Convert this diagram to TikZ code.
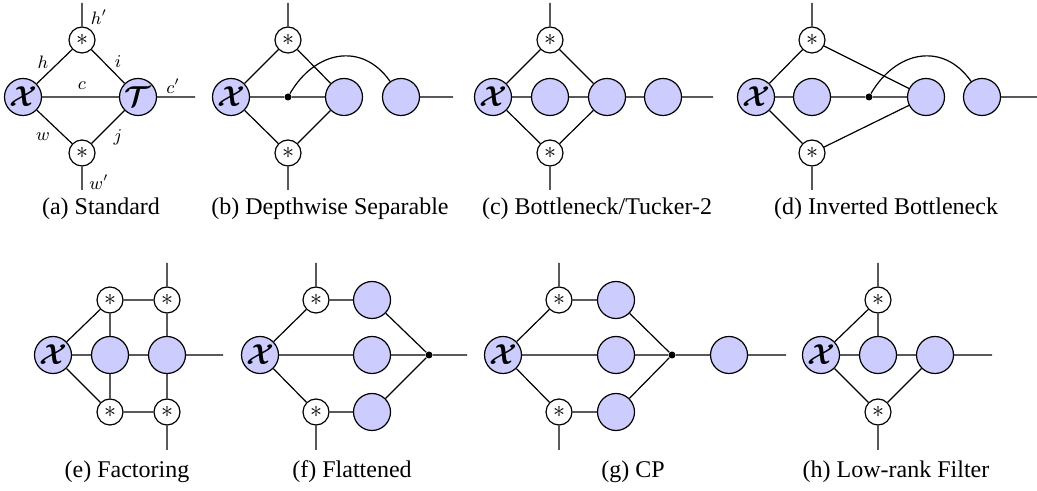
\documentclass[tikz,border=0pt]{standalone}
\usepackage{amsmath}
\usepackage{bm}
\usepackage{fontspec}
\setmainfont{Liberation Serif}
\definecolor{tfill}{RGB}{204,204,255}
\tikzset{
  tn/.style={circle,draw,fill=tfill,minimum size=18.5pt,inner sep=0pt,line width=0.6pt},
  cv/.style={circle,draw,fill=white,minimum size=13pt,inner sep=0pt,line width=0.6pt,font=\fontsize{11.5}{11.5}\selectfont},
  dotn/.style={circle,fill=black,minimum size=3.5pt,inner sep=0pt},
  lbl/.style={font=\fontsize{9}{9}\selectfont,inner sep=0pt},
  captxt/.style={font=\fontsize{12}{14}\selectfont,inner sep=0pt,anchor=base},
  wire/.style={line width=0.6pt}
}
\newcommand{\tX}{\fontsize{14}{14}\selectfont$\bm{\mathcal{X}}$}
\newcommand{\tT}{\fontsize{14}{14}\selectfont$\bm{\mathcal{T}}$}
\begin{document}
\begin{tikzpicture}[x=0.5pt,y=0.5pt]
\useasboundingbox (0,0) rectangle (1037,491);
% ---------- (a)
\node[tn] (aX) at (23,394) {\tX};
\node[tn] (aT) at (138,394) {\tT};
\node[cv] (as1) at (82,451) {$\ast$};
\node[cv] (as2) at (82,338) {$\ast$};
\coordinate (atop) at (82,488);
\coordinate (abot) at (82,301);
\coordinate (ar) at (195,394);
\draw[wire] (aX) -- (as1) (as1) -- (aT) (aX) -- (aT) (aX) -- (as2) (as2) -- (aT)
  (as1) -- (atop) (as2) -- (abot) (aT) -- (ar);
\node[lbl] (lhp) at (99,474) {$h'$};
\node[lbl] (lh) at (43,429) {$h$};
\node[lbl] (li) at (118,429) {$i$};
\node[lbl] (lc) at (82,405) {$c$};
\node[lbl] (lcp) at (173,405) {$c'$};
\node[lbl] (lw) at (43,354) {$w$};
\node[lbl] (lj) at (118,354) {$j$};
\node[lbl] (lwp) at (99,309) {$w'$};
\node[captxt] (capa) at (101,276) {(a) Standard};
% ---------- (b)
\node[tn] (bX) at (231,394) {\tX};
\node[cv] (bs1) at (288,451) {$\ast$};
\node[cv] (bs2) at (288,338) {$\ast$};
\node[dotn] (bd) at (288,394) {};
\node[tn] (b2) at (344,394) {};
\node[tn] (b3) at (401,394) {};
\coordinate (btop) at (288,488);
\coordinate (bbot) at (288,301);
\coordinate (br) at (453,394);
\draw[wire] (bX) -- (bs1) (bs1) -- (b2) (bX) -- (bs2) (bs2) -- (b2) (bX) -- (bd) (bd) -- (b2)
  (b3) -- (br) (bs1) -- (btop) (bs2) -- (bbot);
\draw[wire] (bd) to[out=60,in=125,looseness=1.25] (b3);
\node[captxt] (capb) at (330,276) {(b) Depthwise Separable};
% ---------- (c)
\node[tn] (cX) at (493,394) {\tX};
\node[cv] (cs1) at (550,451) {$\ast$};
\node[cv] (cs2) at (550,338) {$\ast$};
\node[tn] (c2) at (550,394) {};
\node[tn] (c3) at (607,394) {};
\node[tn] (c4) at (663,394) {};
\coordinate (ctop) at (550,488);
\coordinate (cbot) at (550,301);
\coordinate (cr) at (713,394);
\draw[wire] (cX) -- (cs1) (cs1) -- (c3) (cX) -- (cs2) (cs2) -- (c3) (cX) -- (c2) (c2) -- (c3)
  (c3) -- (c4) (c4) -- (cr) (cs1) -- (ctop) (cs2) -- (cbot);
\node[captxt] (capc) at (597,276) {(c) Bottleneck/Tucker-2};
% ---------- (d)
\node[tn] (dX) at (756,394) {\tX};
\node[cv] (ds1) at (812,451) {$\ast$};
\node[cv] (ds2) at (812,338) {$\ast$};
\node[tn] (d2) at (812,394) {};
\node[dotn] (dd) at (869,394) {};
\node[tn] (d3) at (926,394) {};
\node[tn] (d4) at (982,394) {};
\coordinate (dtop) at (812,488);
\coordinate (dbot) at (812,301);
\coordinate (dr) at (1037,394);
\draw[wire] (dX) -- (ds1) (ds1) -- (d3) (dX) -- (ds2) (ds2) -- (d3) (dX) -- (d2) (d2) -- (dd)
  (dd) -- (d3) (d4) -- (dr) (ds1) -- (dtop) (ds2) -- (dbot);
\draw[wire] (dd) to[out=60,in=125,looseness=1.25] (d4);
\node[captxt] (capd) at (886,276) {(d) Inverted Bottleneck};
% ---------- (e)
\node[tn] (eX) at (53,136) {\tX};
\node[cv] (etl) at (110,191) {$\ast$};
\node[cv] (etr) at (167,191) {$\ast$};
\node[cv] (ebl) at (110,79) {$\ast$};
\node[cv] (ebr) at (167,79) {$\ast$};
\node[tn] (e2) at (110,136) {};
\node[tn] (e3) at (167,136) {};
\coordinate (etop) at (167,228);
\coordinate (ebot) at (167,41);
\coordinate (er) at (223,136);
\draw[wire] (eX) -- (etl) (etl) -- (etr) (etl) -- (e2) (eX) -- (ebl) (ebl) -- (ebr) (ebl) -- (e2)
  (eX) -- (e2) (e2) -- (e3) (e3) -- (er) (etr) -- (e3) (ebr) -- (e3) (etr) -- (etop) (ebr) -- (ebot);
\node[captxt] (cape) at (127,13) {(e) Factoring};
% ---------- (f)
\node[tn] (fX) at (260,136) {\tX};
\node[cv] (fs1) at (316,191) {$\ast$};
\node[cv] (fs2) at (316,79) {$\ast$};
\node[tn] (f1) at (372,191) {};
\node[tn] (f2) at (372,136) {};
\node[tn] (f3) at (372,79) {};
\node[dotn] (fd) at (429,136) {};
\coordinate (ftop) at (316,228);
\coordinate (fbot) at (316,41);
\coordinate (fr) at (467,136);
\draw[wire] (fX) -- (fs1) (fs1) -- (f1) (f1) -- (fd) (fX) -- (f2) (f2) -- (fd) (fX) -- (fs2)
  (fs2) -- (f3) (f3) -- (fd) (fd) -- (fr) (fs1) -- (ftop) (fs2) -- (fbot);
\node[captxt] (capf) at (352,13) {(f) Flattened};
% ---------- (g)
\node[tn] (gX) at (503,136) {\tX};
\node[cv] (gs1) at (559,191) {$\ast$};
\node[cv] (gs2) at (559,79) {$\ast$};
\node[tn] (g1) at (616,191) {};
\node[tn] (g2) at (616,136) {};
\node[tn] (g3) at (616,79) {};
\node[dotn] (gd) at (672,136) {};
\node[tn] (g4) at (729,136) {};
\coordinate (gtop) at (559,228);
\coordinate (gbot) at (559,41);
\coordinate (gr) at (786,136);
\draw[wire] (gX) -- (gs1) (gs1) -- (g1) (g1) -- (gd) (gX) -- (g2) (g2) -- (gd) (gX) -- (gs2)
  (gs2) -- (g3) (g3) -- (gd) (gd) -- (g4) (g4) -- (gr) (gs1) -- (gtop) (gs2) -- (gbot);
\node[captxt] (capg) at (633,13) {(g) CP};
% ---------- (h)
\node[tn] (hX) at (821,136) {\tX};
\node[cv] (hs1) at (878,191) {$\ast$};
\node[cv] (hs2) at (878,79) {$\ast$};
\node[tn] (h2) at (878,136) {};
\node[tn] (h3) at (935,136) {};
\coordinate (htop) at (878,228);
\coordinate (hbot) at (878,41);
\coordinate (hr) at (992,136);
\draw[wire] (hX) -- (hs1) (hs1) -- (h2) (hX) -- (hs2) (hs2) -- (h3) (hX) -- (h2) (h2) -- (h3)
  (h3) -- (hr) (hs1) -- (htop) (hs2) -- (hbot);
\node[captxt] (caph) at (896,13) {(h) Low-rank Filter};
\end{tikzpicture}
\end{document}
